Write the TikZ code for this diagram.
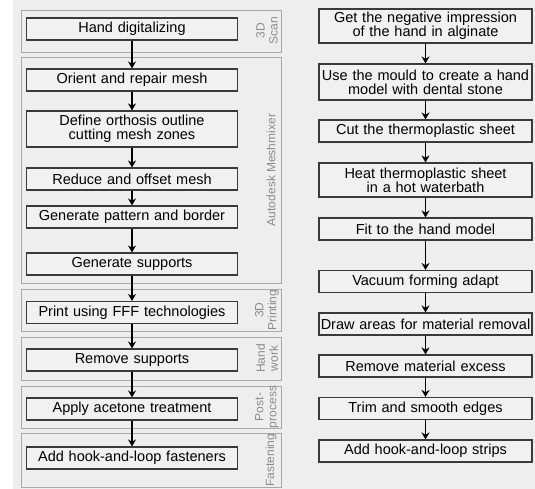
\documentclass[tikz,border=0pt]{standalone}
\usepackage{fontspec}
\setmainfont{Liberation Sans}
\usetikzlibrary{arrows.meta}
\usepackage{xcolor}
\definecolor{bgray}{HTML}{EEEEEE}
\definecolor{grpline}{HTML}{A8A8A8}
\definecolor{grptext}{HTML}{8C8C8C}
\definecolor{boxfill}{HTML}{F1F1F1}
\definecolor{boxline}{HTML}{3A3A3A}

\begin{document}
\begin{tikzpicture}[x=1pt,y=-1pt,->,>={Stealth[length=7pt,width=8pt]},
			line width=1.4pt,
			step box/.style={rectangle,draw=boxline,fill=boxfill,line width=1.1pt,
				minimum height=22pt,inner sep=1pt,align=center,
				font=\fontsize{14.5}{14}\selectfont},
			left box/.style={step box,minimum width=211pt,text width=205pt},
			right box/.style={step box,minimum width=213pt,text width=211pt},
			group box/.style={draw=grpline,line width=0.9pt,-},
			group label/.style={rotate=90,text=grptext,align=center,
				font=\fontsize{12}{13}\selectfont}]
			
			\useasboundingbox (0,0) rectangle (535,489);
			\fill[bgray] (0,0) rectangle (535,489);
			\fill[white] (0,0) rectangle (13,489);
			
			% processing groups
			\draw[group box] (21,10) rectangle (281,52);
			\draw[group box] (21,57) rectangle (281,283);
			\draw[group box] (21,289) rectangle (281,331);
			\draw[group box] (21,337) rectangle (281,380);
			\draw[group box] (21,386) rectangle (281,428);
			\draw[group box] (21,433) rectangle (281,487);
			\node[group label] (gscan) at (267,31) {3D\\Scan};
			\node[group label] (gmesh) at (271,170) {Autodesk Meshmixer};
			\node[group label] (gprint) at (267,310) {3D\\Printing};
			\node[group label] (ghand) at (267,358.5) {Hand\\work};
			\node[group label] (gpost) at (267,407) {Post-\\process};
			\node[group label] (gfast) at (271,460) {Fastening};
			
			% digital workflow
			\node[left box] (hd) at (132,29) {Hand digitalizing};
			\node[left box] (orient) at (132,80) {Orient and repair mesh};
			\node[left box,minimum height=36pt] (define) at (132,129) {Define orthosis outline\\cutting mesh zones};
			\node[left box] (reduce) at (132,179) {Reduce and offset mesh};
			\node[left box] (pattern) at (132,217) {Generate pattern and border};
			\node[left box] (supp) at (132,264) {Generate supports};
			\node[left box] (print) at (132,312.5) {Print using FFF technologies};
			\node[left box] (remsupp) at (132,360) {Remove supports};
			\node[left box] (acetone) at (132,409) {Apply acetone treatment};
			\node[left box] (fasten) at (132,458) {Add hook-and-loop fasteners};
			
			% traditional workflow
			\node[right box,minimum height=34pt] (neg) at (425.5,26) {Get the negative impression\\of the hand in alginate};
			\node[right box,minimum height=36pt] (mould) at (425.5,82) {Use the mould to create a hand\\model with dental stone};
			\node[right box] (cut) at (425.5,131) {Cut the thermoplastic sheet};
			\node[right box,minimum height=34pt] (heat) at (425.5,180) {Heat thermoplastic sheet\\in a hot waterbath};
			\node[right box] (fit) at (425.5,229) {Fit to the hand model};
			\node[right box] (vacuum) at (425.5,281.5) {Vacuum forming adapt};
			\node[right box] (areas) at (425.5,324) {Draw areas for material removal};
			\node[right box] (excess) at (425.5,366) {Remove material excess};
			\node[right box] (trim) at (425.5,408.5) {Trim and smooth edges};
			\node[right box] (strips) at (425.5,451) {Add hook-and-loop strips};
			
			\path
			(hd) edge (orient)
			(orient) edge (define)
			(define) edge (reduce)
			(reduce) edge (pattern)
			(pattern) edge (supp)
			(supp) edge (print)
			(print) edge (remsupp)
			(remsupp) edge (acetone)
			(acetone) edge (fasten)
			(neg) edge (mould)
			(mould) edge (cut)
			(cut) edge (heat)
			(heat) edge (fit)
			(fit) edge (vacuum)
			(vacuum) edge (areas)
			(areas) edge (excess)
			(excess) edge (trim)
			(trim) edge (strips)
			;
\end{tikzpicture}
\end{document}
